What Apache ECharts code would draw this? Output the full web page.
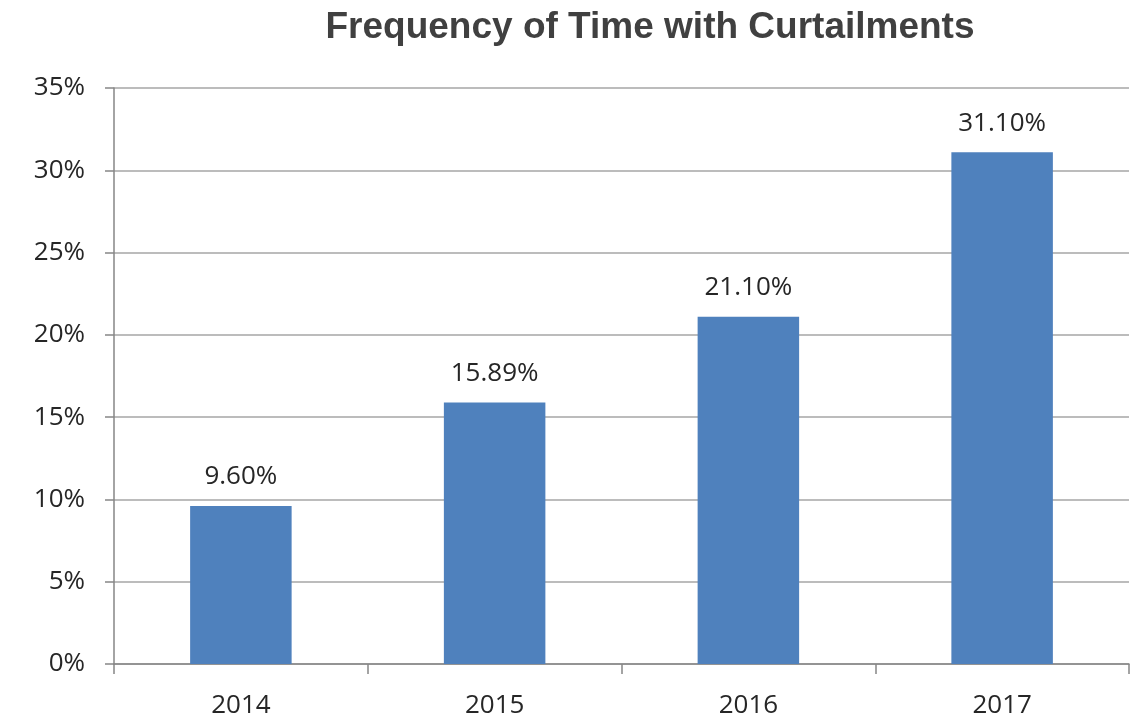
<!DOCTYPE html>
<html><head><meta charset="utf-8">
<script src="https://cdn.jsdelivr.net/npm/echarts@6/dist/echarts.min.js"></script>
<style>html,body{margin:0;padding:0;background:#fff}#c{width:1138px;height:720px}</style>
</head><body><div id="c"></div>
<script>
const categories = ['2014', '2015', '2016', '2017'];
const values = [9.60, 15.89, 21.10, 31.10];
const yTicks = [0, 5, 10, 15, 20, 25, 30, 35];

const chart = echarts.init(document.getElementById('c'));
chart.setOption({
  animation: false,
  title: {
    text: 'Frequency of Time with Curtailments',
    left: 645, textAlign: 'center', top: 4,
    textStyle: { fontFamily: 'Liberation Sans', fontWeight: 'bold', fontSize: 37, color: '#404040' }
  },
  grid: { left: 114, right: 9, top: 88, bottom: 56 },
  xAxis: {
    type: 'category', data: categories,
    axisLine: { lineStyle: { color: '#868686', width: 1.5 } },
    axisTick: { show: true, length: 10, alignWithLabel: false, lineStyle: { color: '#868686', width: 1.5 } },
    axisLabel: { margin: 29, fontFamily: 'Open Sans', fontSize: 26, color: '#262626' }
  },
  yAxis: {
    type: 'value', min: yTicks[0], max: yTicks[yTicks.length - 1], interval: 5,
    axisLine: { show: true, lineStyle: { color: '#868686', width: 1.5 } },
    axisTick: { show: true, length: 9, lineStyle: { color: '#868686', width: 1.5 } },
    splitLine: { lineStyle: { color: '#a6a6a6', width: 1.5 } },
    axisLabel: { margin: 29, fontFamily: 'Open Sans', fontSize: 26, color: '#262626', formatter: v => v + '%' }
  },
  series: [{
    type: 'bar', data: values, barWidth: '40%',
    itemStyle: { color: '#4f81bd' },
    label: {
      show: true, position: 'top', distance: 16,
      fontFamily: 'Open Sans', fontSize: 26, color: '#262626',
      formatter: p => p.value.toFixed(2) + '%'
    }
  }]
});
</script></body></html>
